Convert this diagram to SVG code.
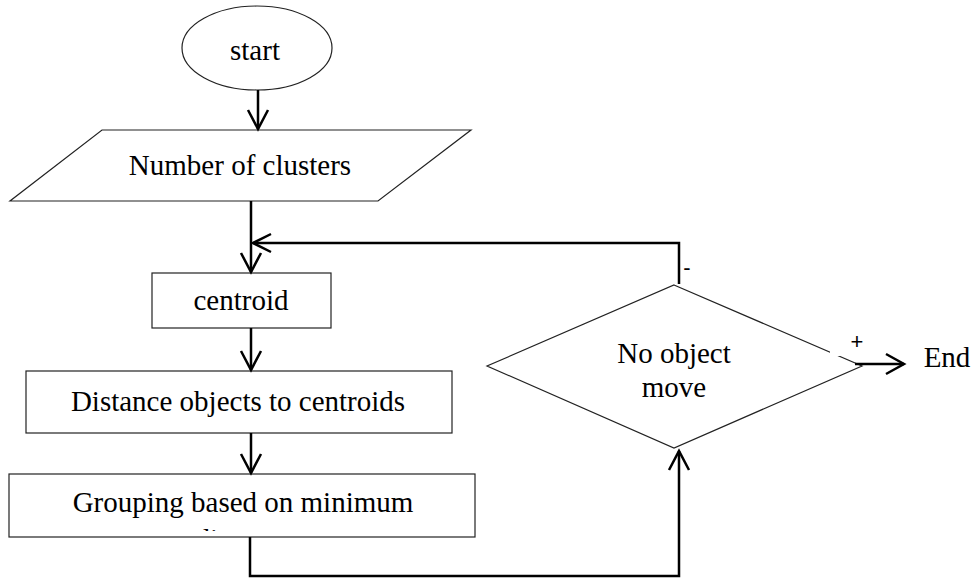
<svg xmlns="http://www.w3.org/2000/svg" width="976" height="579" viewBox="0 0 976 579">
<style>
.shape{fill:#fff;stroke:#222;stroke-width:1.2}
.lbl{font-family:"Liberation Serif","Times New Roman",serif;font-size:29px;fill:#000;text-anchor:middle}
.sign{font-family:"Liberation Sans",Arial,sans-serif;font-size:22px;fill:#000;text-anchor:middle}
.conn{fill:none;stroke:#000;stroke-width:2.5}
.head{fill:none;stroke:#000;stroke-width:2.5;stroke-linejoin:miter}
</style>
<defs>
<clipPath id="clipGroup"><rect x="9" y="474" width="466" height="57"/></clipPath>
</defs>
<rect width="976" height="579" fill="#fff"/>
<g id="start">
<ellipse class="shape" cx="257" cy="48" rx="75" ry="42"/>
<text class="lbl" x="255" y="60">start</text>
</g>
<g id="clusters">
<polygon class="shape" points="102,130 471,130 378,201 10,201"/>
<text class="lbl" x="240" y="175">Number of clusters</text>
</g>
<g id="centroid">
<rect class="shape" x="152" y="273" width="179" height="55"/>
<text class="lbl" x="241" y="310">centroid</text>
</g>
<g id="distance">
<rect class="shape" x="26" y="371" width="426" height="62"/>
<text class="lbl" x="238" y="411">Distance objects to centroids</text>
</g>
<g id="grouping">
<rect class="shape" x="9" y="474" width="466" height="63"/>
<g clip-path="url(#clipGroup)">
<text class="lbl" x="243" y="512">Grouping based on minimum</text>
<text class="lbl" x="243" y="549">distance</text>
</g>
</g>
<g id="decision">
<polygon class="shape" points="674,285 862,366 674,448 487,366"/>
<text class="lbl" x="674" y="363">No object</text>
<text class="lbl" x="674" y="397">move</text>
</g>
<g id="end">
<text class="lbl" x="947" y="367">End</text>
</g>
<g id="connectors">
<path class="conn" d="M258,90 V129"/>
<path class="head" d="M248,110 L258,129 L268,110"/>
<path class="conn" d="M251,201 V272"/>
<path class="head" d="M241,253 L251,272 L261,253"/>
<path class="conn" d="M251,328 V370"/>
<path class="head" d="M241,351 L251,370 L261,351"/>
<path class="conn" d="M251,433 V473"/>
<path class="head" d="M241,454 L251,473 L261,454"/>
<path class="conn" d="M250,537 V576 H679 V451"/>
<path class="head" d="M669,470 L679,451 L689,470"/>
<path class="conn" d="M679,284 V243 H253"/>
<path class="head" d="M271,234 L253,243 L271,252"/>
<rect x="830" y="330" width="40" height="26" fill="#fff"/>
<path class="conn" d="M855,364 H904"/>
<path class="head" d="M886,354 L904,364 L886,374"/>
<text class="sign" x="687" y="275">-</text>
<text class="sign" x="857" y="349">+</text>
</g>
</svg>
